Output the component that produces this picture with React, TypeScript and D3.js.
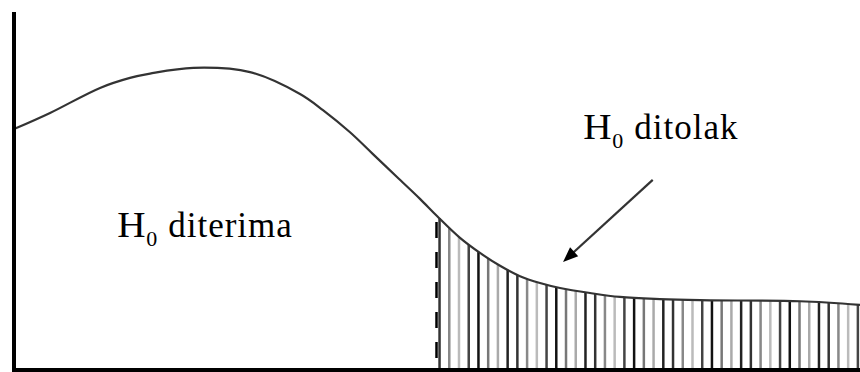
import React from "react";
import * as d3 from "d3";

// Curve (x: 0..100 along the axis, y: 0..100 height)
const curveX = [0, 4.26, 10.17, 13.71, 16.08, 21.2, 27.9, 33.81, 36.52, 39.72, 42.43, 45.27, 47.99, 50, 52.72, 55.08, 57.45, 59.81, 62.17, 64.54, 68.09, 71.63, 76.36, 81.09, 92.91, 100];
const curveY = [67.3, 71.8, 78.8, 81.6, 82.8, 84.4, 83.2, 77.1, 72.6, 66.4, 60.3, 53.9, 47.8, 43.0, 36.9, 32.7, 29.1, 26.2, 24.3, 22.9, 21.5, 20.4, 19.8, 19.5, 19.2, 18.2];
const criticalX = 50;
const labelAccept = ["H", "0", "diterima"];
const labelReject = ["H", "0", "ditolak"];
const hatchColors = ["#333", "#888", "#bbb", "#444", "#111", "#777", "#aaa", "#222"];

const W = 860;
const H = 372;

export default function App() {
  const x = d3.scaleLinear().domain([0, 100]).range([14, 860]);
  const y = d3.scaleLinear().domain([0, 100]).range([370, 12]);
  const pts: [number, number][] = curveX.map((v, i) => [v, curveY[i]]);
  const line = d3
    .line<[number, number]>()
    .x((d) => x(d[0]))
    .y((d) => y(d[1]))
    .curve(d3.curveCatmullRom.alpha(0.5));
  const pathD = line(pts) || "";

  // sample the drawn curve to find hatch tops
  const samples: [number, number][] = (() => {
    if (typeof document === "undefined") return [];
    const p = document.createElementNS("http://www.w3.org/2000/svg", "path");
    p.setAttribute("d", pathD);
    const out: [number, number][] = [];
    try {
      const L = p.getTotalLength();
      for (let s = 0; s <= L; s += 1) {
        const q = p.getPointAtLength(s);
        out.push([q.x, q.y]);
      }
    } catch (e) {}
    return out;
  })();
  const topAt = (px: number) => {
    if (samples.length) {
      let best = samples[0];
      for (const s of samples) if (Math.abs(s[0] - px) < Math.abs(best[0] - px)) best = s;
      return best[1];
    }
    const v = x.invert(px);
    const i = Math.max(1, Math.min(curveX.length - 1, d3.bisectLeft(curveX, v)));
    const t = (v - curveX[i - 1]) / (curveX[i] - curveX[i - 1]);
    return y(curveY[i - 1] + t * (curveY[i] - curveY[i - 1]));
  };

  const hatch = d3.range(criticalX + 0.3, 100, 1.15);
  const baseY = 368;

  const ax = x(75.5), ay = y(53.1);
  const bx = x(64.9), by = y(30.2);
  const ang = Math.atan2(by - ay, bx - ax);
  const hl = 15, hw = 6;
  const head = [
    [bx, by],
    [bx - hl * Math.cos(ang) + hw * Math.sin(ang), by - hl * Math.sin(ang) - hw * Math.cos(ang)],
    [bx - hl * Math.cos(ang) - hw * Math.sin(ang), by - hl * Math.sin(ang) + hw * Math.cos(ang)],
  ];

  const font = "'Liberation Serif', 'Times New Roman', serif";
  const Label = ({ parts, px, py, gap }: { parts: string[]; px: number; py: number; gap: number }) => (
    <g fontFamily={font} fill="#000">
      <text x={px} y={py} fontSize={35} transform={`translate(${px},0) scale(1.12,1) translate(${-px},0)`}>{parts[0]}</text>
      <text x={px + 29} y={py + 9} fontSize={22}>{parts[1]}</text>
      <text x={px + 29 + gap} y={py} fontSize={35} letterSpacing={1}>{parts[2]}</text>
    </g>
  );

  return (
    <svg width={W} height={H} style={{ position: "absolute", left: 0, top: 0, background: "#fff" }}>
      {hatch.map((v, i) => (
        <line
          key={i}
          x1={x(v)}
          x2={x(v)}
          y1={baseY}
          y2={topAt(x(v))}
          stroke={hatchColors[i % hatchColors.length]}
          strokeWidth={2.5}
        />
      ))}
      <line
        x1={x(criticalX) - 0.5}
        x2={x(criticalX) - 0.5}
        y1={358}
        y2={topAt(x(criticalX))}
        stroke="#000"
        strokeWidth={2.5}
        strokeDasharray="16 14"
      />
      <path d={pathD} fill="none" stroke="#333" strokeWidth={2.2} />
      <line x1={14} x2={14} y1={12} y2={372} stroke="#000" strokeWidth={4} />
      <line x1={12} x2={860} y1={370} y2={370} stroke="#000" strokeWidth={4} />
      <line x1={ax} y1={ay} x2={bx - 8 * Math.cos(ang)} y2={by - 8 * Math.sin(ang)} stroke="#333" strokeWidth={2.2} />
      <polygon points={head.map((p) => p.join(",")).join(" ")} fill="#000" />
      <Label parts={labelAccept} px={x(12.2)} py={y(37.2)} gap={22} />
      <Label parts={labelReject} px={x(67.3)} py={y(64.5)} gap={22} />
    </svg>
  );
}
